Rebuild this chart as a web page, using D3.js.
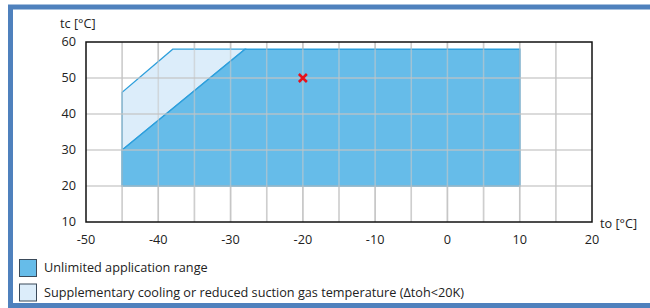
<!DOCTYPE html>
<html>
<head>
<meta charset="utf-8">
<script src="https://cdn.jsdelivr.net/npm/d3@7"></script>
<style>
  body { margin: 0; background: #fff; }
  text { font-family: "Open Sans", "Noto Sans", sans-serif; font-size: 12.7px; fill: #222; }
</style>
</head>
<body>
<div id="chart"></div>
<script>
// data
var xTicks = [-50, -40, -30, -20, -10, 0, 10, 20]
var yTicks = [10, 20, 30, 40, 50, 60]
var unlimited = [[-45, 20], [-45, 30], [-28, 58], [10, 58], [10, 20]]
var supplementary = [[-45, 30], [-45, 46], [-38, 58], [-28, 58]]
var operatingPoint = [-20, 50]
var legendItems = ["Unlimited application range", "Supplementary cooling or reduced suction gas temperature (\u0394toh<20K)"]
var legendColors = ["#66bce9", "#dcedfa"]

var W = 650, H = 308
var margin = {top: 42, left: 86, right: 58, bottom: 86}

var svg = d3.select("#chart").append("svg")
    .attr("width", W)
    .attr("height", H)

// outer blue frame
svg.append("rect")
  .attr("x", 10.5).attr("y", 7)
  .attr("width", W + 10).attr("height", 298.5)
  .attr("fill", "none")
  .attr("stroke", "#4f81bd")
  .attr("stroke-width", 5)

var x = d3.scaleLinear().domain([-50, 20]).range([margin.left, W - margin.right])
var y = d3.scaleLinear().domain([10, 60]).range([H - margin.bottom, margin.top])

var g = svg.append("g")

// grid, every 5 on x, every 10 on y
g.selectAll(".vgrid")
  .data(d3.range(-45, 20, 5))
  .enter().append("line")
  .attr("x1", function(d){ return x(d) }).attr("x2", function(d){ return x(d) })
  .attr("y1", y(10)).attr("y2", y(60))
  .attr("stroke", function(d){ return d % 10 == 0 ? "#c4c4c4" : "#d6d6d6" })
  .attr("stroke-width", 1.5)

var line = d3.line()
    .x(function(d){ return x(d[0]) })
    .y(function(d){ return y(d[1]) })

g.append("path")
  .attr("d", line(supplementary) + "Z")
  .attr("fill", "#dcedfa")
  .attr("stroke", "#2d9fdc")
  .attr("stroke-width", 1.2)

g.append("path")
  .attr("d", line(unlimited) + "Z")
  .attr("fill", "#66bce9")
  .attr("stroke", "#2d9fdc")
  .attr("stroke-width", 1.5)

// grid lines drawn over fill (semi-visible)
g.selectAll(".vgrid2")
  .data(d3.range(-45, 20, 5))
  .enter().append("line")
  .attr("x1", function(d){ return x(d) }).attr("x2", function(d){ return x(d) })
  .attr("y1", y(10)).attr("y2", y(60))
  .attr("stroke", "#c8c8c8")
  .attr("stroke-opacity", 0.6)
  .attr("stroke-width", 1.5)

g.selectAll(".hgrid")
  .data(d3.range(20, 60, 10))
  .enter().append("line")
  .attr("x1", x(-50)).attr("x2", x(20))
  .attr("y1", function(d){ return y(d) }).attr("y2", function(d){ return y(d) })
  .attr("stroke", "#c4c4c4")
  .attr("stroke-opacity", 0.8)
  .attr("stroke-width", 1.5)

// plot frame
g.append("rect")
  .attr("x", x(-50)).attr("y", y(60))
  .attr("width", x(20) - x(-50)).attr("height", y(10) - y(60))
  .attr("fill", "none")
  .attr("stroke", "#111")
  .attr("stroke-width", 1.5)

// red cross
var cs = 4
g.append("path")
  .attr("d", "M" + (x(operatingPoint[0]) - cs) + "," + (y(operatingPoint[1]) - cs) +
             "L" + (x(operatingPoint[0]) + cs) + "," + (y(operatingPoint[1]) + cs) +
             "M" + (x(operatingPoint[0]) - cs) + "," + (y(operatingPoint[1]) + cs) +
             "L" + (x(operatingPoint[0]) + cs) + "," + (y(operatingPoint[1]) - cs))
  .attr("stroke", "#e8101a")
  .attr("stroke-width", 2.5)

// tick labels
g.selectAll(".xl")
  .data(xTicks)
  .enter().append("text")
  .attr("x", function(d){ return x(d) })
  .attr("y", y(10) + 22)
  .attr("text-anchor", "middle")
  .text(function(d){ return d })

g.selectAll(".yl")
  .data(yTicks)
  .enter().append("text")
  .attr("x", margin.left - 10)
  .attr("y", function(d){ return y(d) + 4 })
  .attr("text-anchor", "end")
  .text(function(d){ return d })

svg.append("text").attr("x", 60).attr("y", 28).text("tc [\u00b0C]")
svg.append("text").attr("x", 600).attr("y", 228).text("to [\u00b0C]")

// legend
var leg = svg.selectAll(".leg")
  .data(legendItems)
  .enter().append("g")
  .attr("transform", function(d, i){ return "translate(19," + (259 + i * 24.5) + ")" })

leg.append("rect")
  .attr("x", 0.5).attr("y", 0.5)
  .attr("width", 17).attr("height", 17)
  .attr("fill", function(d, i){ return legendColors[i] })
  .attr("stroke", "#3a4a5a")
  .attr("stroke-width", 1)

leg.append("text")
  .attr("x", 25)
  .attr("y", 13)
  .text(function(d){ return d })
</script>
</body>
</html>
